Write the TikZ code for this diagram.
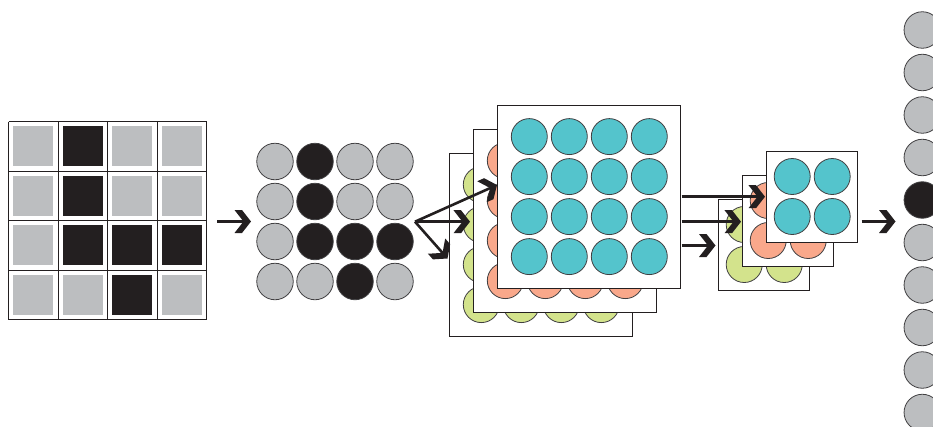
\documentclass[tikz,border=0pt]{standalone}
\usetikzlibrary{calc}
\definecolor{cgray}{HTML}{BCBEC0}
\definecolor{cblack}{HTML}{231F20}
\definecolor{ccyan}{HTML}{54C4CC}
\definecolor{csalmon}{HTML}{F9A88B}
\definecolor{cgreen}{HTML}{D3E38C}
\definecolor{cedge}{HTML}{414042}
\newcommand{\chevarrow}[2]{%
  \draw[shaft] (#1) -- (#2);
  \pgfmathanglebetweenpoints{\pgfpointanchor{#1}{center}}{\pgfpointanchor{#2}{center}}%
  \let\chevang\pgfmathresult
  \begin{scope}[shift={(#2)}, rotate=\chevang]
    \fill[chevron] (0,0) -- (-9,-11.5) -- (-16.5,-11.5) -- (-7.5,0) -- (-16.5,11.5) -- (-9,11.5) -- cycle;
  \end{scope}
}
\begin{document}
\begin{tikzpicture}[x=1pt,y=-1pt,
  sq/.style={rectangle, minimum size=40pt, inner sep=0pt, outer sep=0pt, fill=#1},
  dot/.style={circle, minimum size=36.5pt, inner sep=0pt, outer sep=0pt, draw=cedge, line width=0.8pt, fill=#1},
  panel/.style={rectangle, draw=cblack, line width=0.9pt, fill=white, inner sep=0pt, outer sep=0pt, anchor=north west},
  shaft/.style={draw=cblack, line width=2.6pt, shorten >=6pt},
  chevron/.style={fill=cblack},
]
\useasboundingbox (0,0) rectangle (933,426);
\clip (0,0) rectangle (933,426);

% ---- stage 1: pixel grid and stage 2: input neurons
\foreach \f [count=\k from 0] in {cgray,cblack,cgray,cgray, cgray,cblack,cgray,cgray, cgray,cblack,cblack,cblack, cgray,cgray,cblack,cgray} {
  \pgfmathtruncatemacro\rr{div(\k,4)}
  \pgfmathtruncatemacro\cc{mod(\k,4)}
  \node[sq=\f] (sq\rr\cc) at ({33.25+49.5*\cc},{146.45+49.5*\rr}) {};
  \node[dot=\f] (in\rr\cc) at ({275+40*\cc},{161.5+40*\rr}) {};
}
\foreach \i in {0,...,4} {
  \draw[cblack, line width=1pt] ({8.5+49.5*\i},121.7) -- ({8.5+49.5*\i},319.7);
  \draw[cblack, line width=1pt] (8.5,{121.7+49.5*\i}) -- (206.5,{121.7+49.5*\i});
}

% ---- stage 3: three feature maps 4x4
\foreach \L/\f in {0/cgreen,1/csalmon,2/ccyan} {
  \node[panel, minimum width=183pt, minimum height=183pt] (P\L) at ({449.7+24*\L},{153-24*\L}) {};
  \foreach \r in {0,...,3} {
    \foreach \c in {0,...,3} {
      \node[dot=\f, minimum size=36pt] (p\L\r\c) at ({481.3+24*\L+40*\c},{184.6-24*\L+40*\r}) {};
    }
  }
}

% ---- stage 4: three pooled maps 2x2
\foreach \L/\f in {0/cgreen,1/csalmon,2/ccyan} {
  \node[panel, minimum width=91pt, minimum height=91pt] (Q\L) at ({718.7+24*\L},{199-24*\L}) {};
  \foreach \r in {0,1} {
    \foreach \c in {0,1} {
      \node[dot=\f, minimum size=36pt] (q\L\r\c) at ({744.2+24*\L+40*\c},{224.5-24*\L+40*\r}) {};
    }
  }
}

% ---- output neurons
\foreach \k in {0,...,9} {
  \ifnum\k=4 \def\ff{cblack}\else \def\ff{cgray}\fi
  \node[dot=\ff] (out\k) at (922.3,{30+42.5*\k}) {};
}

% ---- connector end points
\coordinate (a1s) at (217,221.5);
\coordinate (a1e) at (251,221.5);
\coordinate (a2s) at (415,221.7);
\coordinate (a2t) at (497,185);
\coordinate (a2m) at (470,221.7);
\coordinate (a2b) at (447.5,258.5);
\coordinate (a3ts) at (681.5,196.7);
\coordinate (a3te) at (765,196.7);
\coordinate (a3ms) at (681.5,221.7);
\coordinate (a3me) at (741,221.7);
\coordinate (a3bs) at (681.5,245.5);
\coordinate (a3be) at (715.5,245.5);
\coordinate (a4s) at (861.7,221.5);
\coordinate (a4e) at (895.5,221.5);

\chevarrow{a1s}{a1e}
\chevarrow{a2s}{a2t}
\chevarrow{a2s}{a2m}
\chevarrow{a2s}{a2b}
\chevarrow{a3ts}{a3te}
\chevarrow{a3ms}{a3me}
\chevarrow{a3bs}{a3be}
\chevarrow{a4s}{a4e}
\end{tikzpicture}
\end{document}
